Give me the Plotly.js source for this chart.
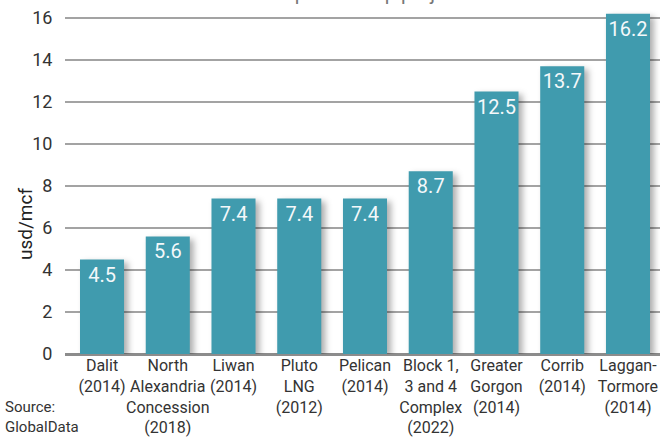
<!DOCTYPE html>
<html>
<head>
<meta charset="utf-8">
<script src="https://cdn.plot.ly/plotly-3.0.1.min.js"></script>
<style>
  html, body { margin: 0; padding: 0; background: #fff; }
  #chart { width: 660px; height: 438px; }
  /* soft shadow behind each bar */
  .barlayer .point path { filter: drop-shadow(4px 3px 3px rgba(0, 0, 0, 0.32)); }
</style>
</head>
<body>
<div id="chart"></div>
<script>
// Breakeven gas price by project, usd/mcf
const projects = [
  'Dalit<br>(2014)',
  'North<br>Alexandria<br>Concession<br>(2018)',
  'Liwan<br>(2014)',
  'Pluto<br>LNG<br>(2012)',
  'Pelican<br>(2014)',
  'Block 1,<br>3 and 4<br>Complex<br>(2022)',
  'Greater<br>Gorgon<br>(2014)',
  'Corrib<br>(2014)',
  'Laggan-<br>Tormore<br>(2014)'
];
const priceUsdMcf = [4.5, 5.6, 7.4, 7.4, 7.4, 8.7, 12.5, 13.7, 16.2];
const yTicks = [0, 2, 4, 6, 8, 10, 12, 14, 16];

const FONT = 'Roboto, "Liberation Sans", sans-serif';

const trace = {
  type: 'bar',
  x: projects.map((_, i) => i),
  y: priceUsdMcf,
  width: 0.67,
  marker: { color: '#409bae', line: { width: 0 } },
  text: priceUsdMcf.map(v => v.toFixed(1)),
  textposition: 'inside',
  insidetextanchor: 'end',
  constraintext: 'none',
  textangle: 0,
  insidetextfont: { family: FONT, size: 20, color: '#f4f8fa' },
  hoverinfo: 'skip'
};

const layout = {
  width: 660,
  height: 438,
  margin: { l: 65, r: 0, t: 10, b: 84 },
  paper_bgcolor: '#fff',
  plot_bgcolor: '#fff',
  showlegend: false,
  font: { family: FONT, color: '#333' },
  title: {
    text: 'Breakeven price of top projects',
    font: { family: FONT, size: 20, color: '#777' },
    x: 0.508,
    xanchor: 'center',
    yref: 'container',
    y: 0.999,
    yanchor: 'bottom'
  },
  xaxis: {
    range: [-0.563, 8.487],
    tickmode: 'array',
    tickvals: projects.map((_, i) => i),
    ticktext: projects,
    tickangle: 0,
    tickfont: { family: FONT, size: 16, color: '#333' },
    showgrid: false,
    zeroline: false,
    showline: false,
    ticks: '',
    fixedrange: true
  },
  yaxis: {
    range: [0, 16.381],
    tickmode: 'array',
    tickvals: yTicks,
    tickfont: { family: FONT, size: 18, color: '#333' },
    showgrid: true,
    gridcolor: '#a3a3a3',
    gridwidth: 2,
    zeroline: true,
    zerolinecolor: '#8c8c8c',
    zerolinewidth: 3,
    showline: false,
    ticks: 'outside',
    ticklen: 8,
    tickcolor: 'rgba(0,0,0,0)',
    fixedrange: true
  },
  annotations: [
    {
      // y-axis title, set a little below the plot's middle
      text: 'usd/mcf',
      textangle: -90,
      xref: 'paper', yref: 'paper',
      x: -40 / 595, y: (354 - 224) / 344,
      xanchor: 'center', yanchor: 'middle',
      showarrow: false,
      font: { family: FONT, size: 19, color: '#222' }
    },
    {
      text: 'Source:<br>GlobalData',
      xref: 'paper', yref: 'paper',
      x: -62 / 595, y: -84 / 344,
      xanchor: 'left', yanchor: 'bottom',
      align: 'left',
      showarrow: false,
      font: { family: FONT, size: 15, color: '#333' }
    }
  ]
};

Plotly.newPlot('chart', [trace], layout, { displayModeBar: false, staticPlot: true });
</script>
</body>
</html>
